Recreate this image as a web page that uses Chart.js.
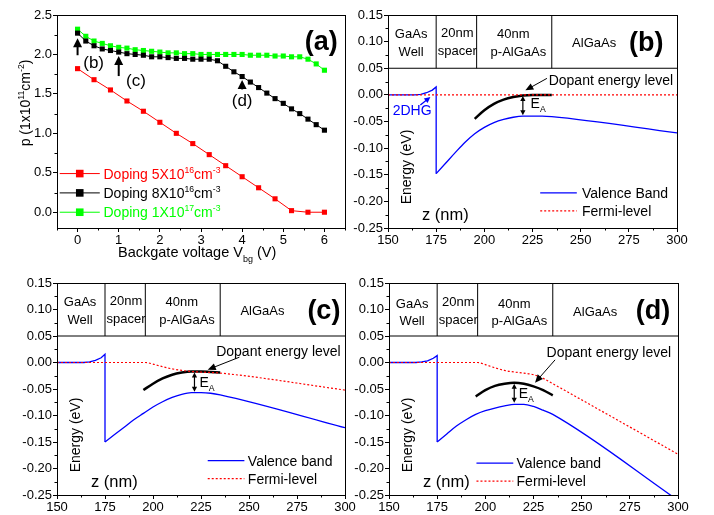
<!DOCTYPE html>
<html>
<head>
<meta charset="utf-8">
<title>Hole density and band profiles</title>
<script src="https://cdn.jsdelivr.net/npm/chart.js@4.4.1/dist/chart.umd.min.js"></script>
<style>
  html, body { margin: 0; padding: 0; background: #fff; }
  #fig { position: relative; width: 714px; height: 515px; overflow: hidden; background: #fff; }
  #fig canvas { position: absolute; left: 0; top: 0; }
</style>
</head>
<body>
<div id="fig">
  <canvas id="chartA" width="714" height="515"></canvas>
  <canvas id="chartB" width="714" height="515"></canvas>
  <canvas id="chartC" width="714" height="515"></canvas>
  <canvas id="chartD" width="714" height="515"></canvas>
</div>
<script>
// ---- panel (a): hole density vs backgate voltage ----
var vbgCoarse = [0, 0.4, 0.8, 1.2, 1.6, 2.0, 2.4, 2.8, 3.2, 3.6, 4.0, 4.4, 4.8, 5.2, 5.6, 6.0];
var pDoping5e16 = [1.82, 1.68, 1.55, 1.41, 1.28, 1.14, 1.00, 0.87, 0.73, 0.59, 0.45, 0.31, 0.17, 0.02, 0.00, 0.00];
var vbgFine = [0, 0.2, 0.4, 0.6, 0.8, 1.0, 1.2, 1.4, 1.6, 1.8, 2.0, 2.2, 2.4, 2.6, 2.8, 3.0,
               3.2, 3.4, 3.6, 3.8, 4.0, 4.2, 4.4, 4.6, 4.8, 5.0, 5.2, 5.4, 5.6, 5.8, 6.0];
var pDoping8e16 = [2.27, 2.17, 2.11, 2.07, 2.05, 2.03, 2.01, 2.00, 1.99, 1.97, 1.97, 1.96, 1.95, 1.95, 1.94, 1.94,
                   1.94, 1.92, 1.85, 1.78, 1.72, 1.65, 1.58, 1.51, 1.44, 1.38, 1.31, 1.25, 1.18, 1.11, 1.04];
var pDoping1e17 = [2.32, 2.23, 2.17, 2.14, 2.11, 2.09, 2.08, 2.06, 2.05, 2.04, 2.03, 2.02, 2.02, 2.01, 2.01, 2.00,
                   2.00, 2.00, 2.00, 2.00, 2.00, 1.99, 1.99, 1.99, 1.98, 1.98, 1.97, 1.97, 1.94, 1.88, 1.80];
var vbgTickLabels = ['0', '1', '2', '3', '4', '5', '6'];
var pTickLabels = ['0.0', '0.5', '1.0', '1.5', '2.0', '2.5'];

// ---- panels (b)-(d): band profiles along z ----
var zTickLabels = ['150', '175', '200', '225', '250', '275', '300'];
var energyTickLabels = ['-0.25', '-0.20', '-0.15', '-0.10', '-0.05', '0.00', '0.05', '0.10', '0.15'];
var layerEdges = [175, 196, 235];
var layerNames = [['GaAs', 162, 0.113], ['Well', 162, 0.080], ['20nm', 186, 0.116], ['spacer', 186, 0.082],
                  ['40nm', 215, 0.113], ['p-AlGaAs', 217.7, 0.080], ['AlGaAs', 257, 0.097]];

// index 7 is the bottom of the step at z = 175
var zValence = [150, 160, 164, 167, 170, 173, 175, 175, 180, 185, 190, 195, 200, 205, 210, 215, 220, 225, 230, 235, 300];
var eValenceB = [0, 0, 0, 0.001, 0.004, 0.009, 0.015, -0.148, -0.128, -0.108, -0.089, -0.073, -0.061, -0.052,
                 -0.046, -0.042, -0.040, -0.040, -0.040, -0.041, -0.0715];
var eValenceC = [0, 0, 0, 0.001, 0.004, 0.009, 0.0155, -0.150, -0.136, -0.122, -0.108, -0.096, -0.084, -0.074,
                 -0.066, -0.060, -0.057, -0.057, -0.058, -0.061, -0.123];
var eValenceD = [0, 0, 0, 0.001, 0.003, 0.008, 0.013, -0.150, -0.135, -0.120, -0.108, -0.098, -0.091, -0.086,
                 -0.082, -0.079, -0.079, -0.083, -0.090, -0.098, -0.260];

var zDopant = [195, 200, 205, 210, 215, 220, 225, 230, 235];
var eDopantB = [-0.045, -0.029, -0.017, -0.009, -0.004, -0.001, 0, 0, 0];
var eDopantC = [-0.052, -0.040, -0.030, -0.023, -0.019, -0.017, -0.017, -0.018, -0.019];
var eDopantD = [-0.064, -0.052, -0.044, -0.040, -0.038, -0.040, -0.045, -0.052, -0.062];

var zFermiB = [150, 300];
var eFermiB = [0, 0];
var zFermiC = [150, 196, 200, 205, 210, 215, 220, 225, 235, 300];
var eFermiC = [0, 0, -0.003, -0.008, -0.012, -0.015, -0.017, -0.018, -0.020, -0.052];
var zFermiD = [150, 196, 200, 205, 210, 215, 220, 225, 230, 235, 300];
var eFermiD = [0, 0, -0.004, -0.010, -0.015, -0.018, -0.020, -0.023, -0.030, -0.040, -0.173];

var FONT = "'Liberation Sans', Arial, sans-serif";
var RED = '#ff0000', GREEN = '#00ff00', BLUE = '#0000ff';
Chart.defaults.font.family = FONT;
Chart.defaults.color = '#000';

function pts(xs, ys) {
  return xs.map(function (x, i) { return { x: x, y: ys[i] }; });
}

function P(chart, x, y) {
  return { x: chart.scales.x.getPixelForValue(x), y: chart.scales.y.getPixelForValue(y) };
}

// text with superscripts (1) and subscripts (-1); y is the cap-height centre
function richText(ctx, parts, x, y, size, color, align, bold) {
  var w = 0, i;
  function fontFor(k) { return (bold ? 'bold ' : '') + (k ? size * 0.62 : size) + 'px ' + FONT; }
  for (i = 0; i < parts.length; i++) {
    ctx.font = fontFor(parts[i][1]);
    w += ctx.measureText(parts[i][0]).width;
  }
  var cx = align === 'center' ? x - w / 2 : (align === 'right' ? x - w : x);
  var base = y + size * 0.36;
  ctx.fillStyle = color;
  ctx.textAlign = 'left';
  ctx.textBaseline = 'alphabetic';
  for (i = 0; i < parts.length; i++) {
    var k = parts[i][1];
    ctx.font = fontFor(k);
    var dy = k === 1 ? -size * 0.42 : (k === -1 ? size * 0.3 : 0);
    ctx.fillText(parts[i][0], cx, base + dy);
    cx += ctx.measureText(parts[i][0]).width;
  }
  return w;
}

function arrowHead(ctx, x, y, ang, len, hw) {
  ctx.beginPath();
  ctx.moveTo(x, y);
  ctx.lineTo(x - len * Math.cos(ang) + hw * Math.sin(ang), y - len * Math.sin(ang) - hw * Math.cos(ang));
  ctx.lineTo(x - len * Math.cos(ang) - hw * Math.sin(ang), y - len * Math.sin(ang) + hw * Math.cos(ang));
  ctx.closePath();
  ctx.fill();
}

function arrow(ctx, x1, y1, x2, y2, len, hw, color, lw, both) {
  var ang = Math.atan2(y2 - y1, x2 - x1);
  var c = Math.cos(ang), s = Math.sin(ang);
  ctx.strokeStyle = color;
  ctx.fillStyle = color;
  ctx.lineWidth = lw;
  ctx.beginPath();
  ctx.moveTo(both ? x1 + c * len * 0.8 : x1, both ? y1 + s * len * 0.8 : y1);
  ctx.lineTo(x2 - c * len * 0.8, y2 - s * len * 0.8);
  ctx.stroke();
  arrowHead(ctx, x2, y2, ang, len, hw);
  if (both) arrowHead(ctx, x1, y1, ang + Math.PI, len, hw);
}

function makeAxis(pos, min, max, labels, size) {
  return {
    type: 'linear', position: pos, min: min, max: max,
    afterBuildTicks: function (s) {
      s.ticks = labels.map(function (t) { return { value: parseFloat(t) }; });
    },
    afterFit: function (s) {
      if (pos === 'left') { s.width = size; } else { s.height = size; }
      s.paddingLeft = 0; s.paddingRight = 0; s.paddingTop = 0; s.paddingBottom = 0;
    },
    ticks: {
      autoSkip: false, maxRotation: 0, padding: 1, color: '#000',
      font: { size: 13 },
      callback: function (v) {
        for (var i = 0; i < labels.length; i++) {
          if (Math.abs(parseFloat(labels[i]) - v) < 1e-9) return labels[i];
        }
        return '';
      }
    },
    grid: { drawOnChartArea: false, drawTicks: true, tickLength: 4, color: '#000', tickColor: '#000' },
    border: { display: true, color: '#000', width: 1 }
  };
}

// box around the plot + short minor ticks between the labelled ones
var frame = {
  id: 'frame',
  afterDraw: function (chart) {
    var a = chart.chartArea, ctx = chart.ctx;
    ctx.save();
    ctx.strokeStyle = '#000';
    ctx.lineWidth = 1;
    ctx.strokeRect(Math.round(a.left) + 0.5, Math.round(a.top) + 0.5,
                   Math.round(a.right - a.left), Math.round(a.bottom - a.top));
    ['x', 'y'].forEach(function (id) {
      var s = chart.scales[id], t = s.ticks, step = t[1].value - t[0].value;
      var vals = [t[0].value - step / 2];
      t.forEach(function (k) { vals.push(k.value + step / 2); });
      vals.forEach(function (v) {
        if (v < s.min - 1e-9 || v > s.max + 1e-9) return;
        var p = Math.round(s.getPixelForValue(v)) + 0.5;
        ctx.beginPath();
        if (id === 'x') { ctx.moveTo(p, a.bottom); ctx.lineTo(p, a.bottom + 2.5); }
        else { ctx.moveTo(a.left, p); ctx.lineTo(a.left - 2.5, p); }
        ctx.stroke();
      });
    });
    ctx.restore();
  }
};

function pad(g) {
  return { left: g.L - 40, right: 714 - g.R, top: g.T, bottom: 515 - g.B - 20 };
}

function baseOptions(g, xAxis, yAxis) {
  return {
    responsive: false, animation: false, events: [], devicePixelRatio: 1,
    layout: { padding: pad(g) },
    plugins: { legend: { display: false }, tooltip: { enabled: false } },
    scales: { x: xAxis, y: yAxis }
  };
}

// ---------------- panel (a) ----------------
function markerSet(xs, ys, color) {
  return {
    data: pts(xs, ys), borderColor: color, backgroundColor: color, borderWidth: 1,
    pointStyle: 'rect', pointRadius: 3.6, pointBorderWidth: 0, tension: 0, fill: false
  };
}

var legendA = [
  { y: 0.49, color: RED, parts: [['Doping 5X10', 0], ['16', 1], ['cm', 0], ['-3', 1]] },
  { y: 0.245, color: '#000', parts: [['Doping 8X10', 0], ['16', 1], ['cm', 0], ['-3', 1]] },
  { y: 0.0, color: GREEN, parts: [['Doping 1X10', 0], ['17', 1], ['cm', 0], ['-3', 1]] }
];

var decorA = {
  id: 'decorA',
  afterDatasetsDraw: function (chart) {
    var ctx = chart.ctx;
    ctx.save();
    // arrows marking the bias points used in (b), (c), (d)
    [[0, 1.99, 2.205], [1, 1.726, 1.98], [4, 1.557, 1.675]].forEach(function (r) {
      var p1 = P(chart, r[0], r[1]), p2 = P(chart, r[0], r[2]);
      arrow(ctx, p1.x, p1.y, p2.x, p2.y, 9, 4.5, '#000', 2, false);
    });
    [['(b)', 0.39, 1.907], ['(c)', 1.42, 1.675], ['(d)', 4.0, 1.43]].forEach(function (r) {
      var p = P(chart, r[1], r[2]);
      richText(ctx, [[r[0], 0]], p.x, p.y, 17, '#000', 'center');
    });
    var pl = P(chart, 5.92, 2.18);
    richText(ctx, [['(a)', 0]], pl.x, pl.y, 27, '#000', 'center', true);

    legendA.forEach(function (row) {
      var p1 = P(chart, -0.434, row.y), p2 = P(chart, 0.54, row.y), pm = P(chart, 0.053, row.y);
      ctx.strokeStyle = row.color; ctx.fillStyle = row.color; ctx.lineWidth = 1;
      ctx.beginPath(); ctx.moveTo(p1.x, p1.y); ctx.lineTo(p2.x, p2.y); ctx.stroke();
      ctx.fillRect(pm.x - 3.8, pm.y - 3.8, 7.6, 7.6);
      var pt = P(chart, 0.63, row.y);
      richText(ctx, row.parts, pt.x, pt.y, 14, row.color, 'left');
    });

    ctx.save();
    ctx.translate(25, 103);
    ctx.rotate(-Math.PI / 2);
    richText(ctx, [['p (1x10', 0], ['11', 1], ['cm', 0], ['-2', 1], [')', 0]], 0, 0, 14, '#000', 'center');
    ctx.restore();
    richText(ctx, [['Backgate voltage V', 0], ['bg', -1], [' (V)', 0]], 118, 252, 14.5, '#000', 'left');
    ctx.restore();
  }
};

var geoA = { L: 57, R: 345, T: 15, B: 228 };
new Chart(document.getElementById('chartA'), {
  type: 'line',
  data: {
    datasets: [
      markerSet(vbgFine, pDoping8e16, '#000'),
      markerSet(vbgFine, pDoping1e17, GREEN),
      markerSet(vbgCoarse, pDoping5e16, RED)
    ]
  },
  options: baseOptions(geoA, makeAxis('bottom', -0.5, 6.5, vbgTickLabels, 20), makeAxis('left', -0.2, 2.5, pTickLabels, 40)),
  plugins: [frame, decorA]
});

// ---------------- panels (b), (c), (d) ----------------
function energyDecor(cfg) {
  return {
    id: 'energyDecor',
    afterDatasetsDraw: function (chart) {
      var ctx = chart.ctx, a = chart.chartArea, p, q;
      ctx.save();
      ctx.font = '13px ' + FONT;
      ctx.fillStyle = '#000';
      ctx.textAlign = 'center';
      ctx.textBaseline = 'middle';
      layerNames.forEach(function (n) {
        var t = P(chart, n[1], n[2] + cfg.dy);
        ctx.fillText(n[0], t.x, t.y);
      });
      p = P(chart, cfg.letter[1], cfg.letter[2]);
      richText(ctx, [[cfg.letter[0], 0]], p.x, p.y, 27, '#000', 'center', true);

      // dopant level label and pointer
      p = P(chart, cfg.dopText[0], cfg.dopText[1]);
      richText(ctx, [['Dopant energy level', 0]], p.x, p.y, 14, '#000', 'left');
      p = P(chart, cfg.dopTail[0], cfg.dopTail[1]);
      q = P(chart, cfg.dopTip[0], cfg.dopTip[1]);
      arrow(ctx, p.x, p.y, q.x, q.y, 8, 3.5, '#000', 1, false);

      // activation energy E_A
      p = P(chart, cfg.ea[0], cfg.ea[1]);
      q = P(chart, cfg.ea[0], cfg.ea[2]);
      arrow(ctx, p.x, p.y + 1, q.x, q.y - 1, 5, 2.6, '#000', 1.2, true);
      p = P(chart, cfg.ea[3], cfg.ea[4]);
      richText(ctx, [['E', 0], ['A', -1]], p.x, p.y, 14, '#000', 'left');

      if (cfg.hole) {
        p = P(chart, 162.5, -0.029);
        richText(ctx, [['2DHG', 0]], p.x, p.y, 14, BLUE, 'center');
        p = P(chart, 166.8, -0.019);
        q = P(chart, 172, -0.004);
        arrow(ctx, p.x, p.y, q.x, q.y, 6, 3, BLUE, 1.3, false);
      }

      // legend
      var lg = cfg.legend;
      p = P(chart, lg[0], lg[3]); q = P(chart, lg[1], lg[3]);
      ctx.strokeStyle = BLUE; ctx.lineWidth = 1.3;
      ctx.beginPath(); ctx.moveTo(p.x, p.y); ctx.lineTo(q.x, q.y); ctx.stroke();
      richText(ctx, [[cfg.vbName, 0]], P(chart, lg[2], 0).x, p.y, 14, '#000', 'left');
      p = P(chart, lg[0], lg[4]); q = P(chart, lg[1], lg[4]);
      ctx.strokeStyle = RED; ctx.lineWidth = 1.2; ctx.setLineDash([2, 2]);
      ctx.beginPath(); ctx.moveTo(p.x, p.y); ctx.lineTo(q.x, q.y); ctx.stroke();
      ctx.setLineDash([]);
      richText(ctx, [['Fermi-level', 0]], P(chart, lg[2], 0).x, p.y, 14, '#000', 'left');

      // axis names drawn inside the frame
      ctx.save();
      ctx.translate(a.left + 18, a.top + 152);
      ctx.rotate(-Math.PI / 2);
      richText(ctx, [['Energy (eV)', 0]], 0, 0, 14, '#000', 'center');
      ctx.restore();
      richText(ctx, [['z (nm)', 0]], a.left + 34, a.bottom - 14, 16.5, '#000', 'left');
      ctx.restore();
    }
  };
}

function curve(xs, ys, color, width, extra) {
  var d = { data: pts(xs, ys), borderColor: color, borderWidth: width, pointRadius: 0, fill: false,
            cubicInterpolationMode: 'monotone' };
  for (var k in extra) d[k] = extra[k];
  return d;
}

function energyChart(id, g, eValence, eDopant, zFermi, eFermi, cfg) {
  var sets = [
    curve(zFermi, eFermi, RED, 1.2, { borderDash: [2, 2] }),
    curve(zDopant, eDopant, '#000', 2.5, {}),
    // well side incl. the vertical step, then the smooth barrier side
    curve(zValence.slice(0, 8), eValence.slice(0, 8), BLUE, 1.3, { cubicInterpolationMode: 'default', tension: 0 }),
    curve(zValence.slice(7), eValence.slice(7), BLUE, 1.3, {}),
    curve([150, 300], [0.05, 0.05], '#000', 1, {})
  ];
  layerEdges.forEach(function (z) {
    sets.push(curve([z, z], [0.05, 0.15], '#000', 1, { cubicInterpolationMode: 'default', tension: 0 }));
  });
  new Chart(document.getElementById(id), {
    type: 'line',
    data: { datasets: sets },
    options: baseOptions(g, makeAxis('bottom', 150, 300, zTickLabels, 20), makeAxis('left', -0.25, 0.15, energyTickLabels, 40)),
    plugins: [frame, energyDecor(cfg)]
  });
}

energyChart('chartB', { L: 388, R: 677, T: 15, B: 228 }, eValenceB, eDopantB, zFermiB, eFermiB, {
  dy: 0, letter: ['(b)', 284, 0.10], hole: true, vbName: 'Valence Band',
  dopText: [233.4, 0.0276], dopTail: [232.5, 0.031], dopTip: [221.3, 0.0085],
  ea: [220, 0, -0.040, 224, -0.015], legend: [229, 248, 250.7, -0.184, -0.218]
});
energyChart('chartC', { L: 57, R: 345, T: 283, B: 495 }, eValenceC, eDopantC, zFermiC, eFermiC, {
  dy: 0, letter: ['(c)', 289, 0.10], hole: false, vbName: 'Valence band',
  dopText: [232.9, 0.022], dopTail: [245, 0.010], dopTip: [228.5, -0.0135],
  ea: [221.6, -0.017, -0.057, 224.2, -0.036], legend: [228.5, 247.6, 249.4, -0.185, -0.219]
});
energyChart('chartD', { L: 389, R: 678, T: 283, B: 495 }, eValenceD, eDopantD, zFermiD, eFermiD, {
  dy: -0.003, letter: ['(d)', 287, 0.10], hole: false, vbName: 'Valence band',
  dopText: [231.8, 0.0195], dopTail: [236.2, 0.005], dopTip: [225.8, -0.038],
  ea: [215, -0.038, -0.078, 217.3, -0.058], legend: [195.4, 214.5, 216.2, -0.190, -0.224]
});
</script>
</body>
</html>
